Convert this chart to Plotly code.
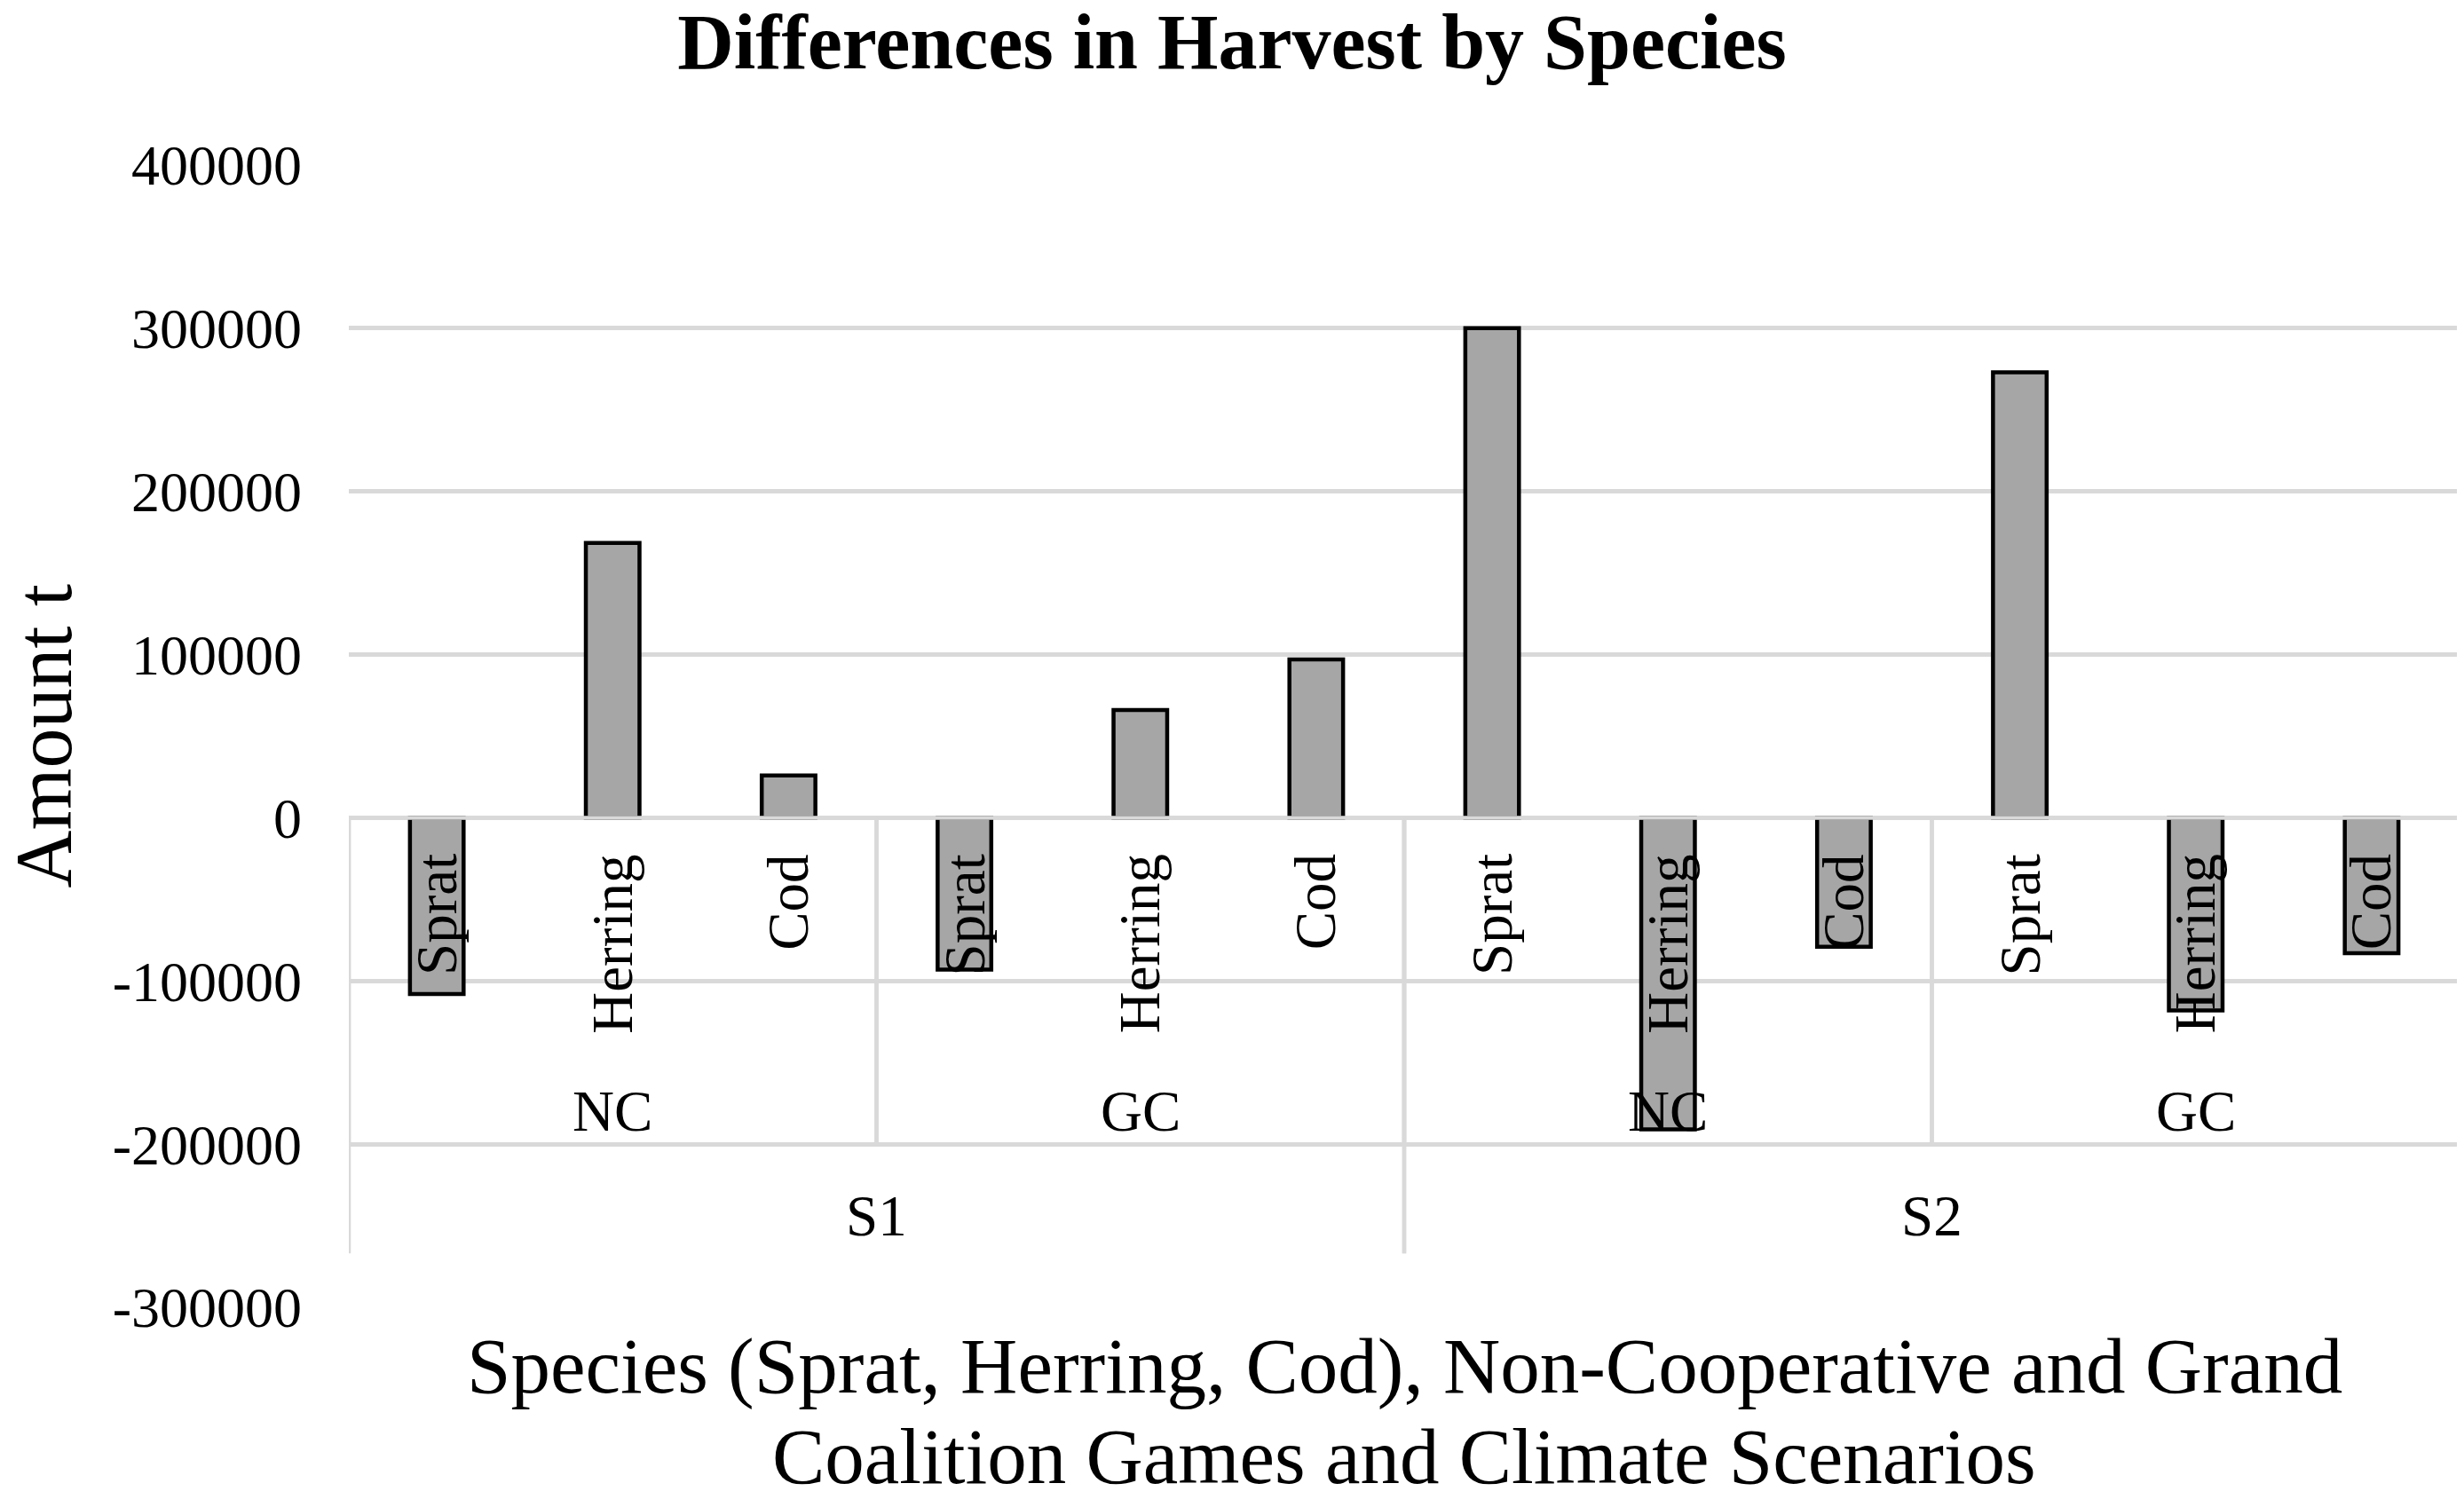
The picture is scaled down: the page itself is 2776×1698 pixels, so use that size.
import plotly.graph_objects as go

# ---- data ----
scenarios = ["S1", "S1", "S1", "S1", "S1", "S1", "S2", "S2", "S2", "S2", "S2", "S2"]
games = ["NC", "NC", "NC", "GC", "GC", "GC", "NC", "NC", "NC", "GC", "GC", "GC"]
species = ["Sprat", "Herring", "Cod", "Sprat", "Herring", "Cod",
           "Sprat", "Herring", "Cod", "Sprat", "Herring", "Cod"]
harvest_diff = [-108000, 168500, 26000, -93000, 66000, 97000,
                300000, -191000, -79000, 273000, -118000, -83000]
y_ticks = [400000, 300000, 200000, 100000, 0, -100000, -200000, -300000]
y_tick_labels = ["400000", "300000", "200000", "100000", "0", "-100000", "-200000", "-300000"]

FONT = "Times New Roman, Liberation Serif, serif"
GRID = "#D9D9D9"
W, H = 2776, 1698
OFF = 8  # page body margin offset
ML, MR, MT, MB = 393 - OFF, 5 + OFF, 186 - OFF, 225 + OFF
PH = H - MT - MB
PW = W - ML - MR

idx = list(range(len(species)))

fig = go.Figure()
fig.add_trace(go.Bar(
    x=idx, y=harvest_diff,
    marker=dict(color="#A6A6A6", line=dict(color="black", width=4.5)),
    showlegend=False, hoverinfo="skip",
))

annotations = []
# species labels (rotated), just below the zero line
for i, s in zip(idx, species):
    annotations.append(dict(
        x=i, y=0, xref="x", yref="y", text=s, showarrow=False,
        textangle=-90, xanchor="center", yanchor="top", yshift=-41,
        font=dict(family=FONT, size=65, color="black"),
        borderpad=0, borderwidth=0,
    ))

# game labels (NC / GC) and scenario labels (S1 / S2) centred on their spans
def spans(labels_lists):
    out = []
    start = 0
    for i in range(1, len(idx) + 1):
        if i == len(idx) or any(l[i] != l[start] for l in labels_lists):
            out.append((start, i - 1))
            start = i
    return out

game_spans = spans([scenarios, games])
scen_spans = spans([scenarios])

GAME_Y = -180000
SCEN_Y = -244000
for a, b in game_spans:
    annotations.append(dict(
        x=(a + b) / 2, y=GAME_Y, xref="x", yref="y", text=games[a], showarrow=False,
        xanchor="center", yanchor="middle",
        font=dict(family=FONT, size=65, color="black"), borderpad=0, borderwidth=0,
    ))
for a, b in scen_spans:
    annotations.append(dict(
        x=(a + b) / 2, y=SCEN_Y, xref="x", yref="y", text=scenarios[a], showarrow=False,
        xanchor="center", yanchor="middle",
        font=dict(family=FONT, size=65, color="black"), borderpad=0, borderwidth=0,
    ))

# axis titles
annotations.append(dict(
    x=(49 - OFF - ML) / PW, y=0.5, xref="paper", yref="paper",
    text="Amount t", textangle=-90, showarrow=False,
    xanchor="center", yanchor="middle",
    font=dict(family=FONT, size=90, color="black"), borderpad=0, borderwidth=0,
))
x_title_lines = ["Species (Sprat, Herring, Cod), Non-Cooperative and Grand",
                 "Coalition Games and Climate Scenarios"]
for line, ypx in zip(x_title_lines, [1539 - OFF, 1641 - OFF]):
    annotations.append(dict(
        x=0.5, y=(H - MB - ypx) / PH, xref="paper", yref="paper",
        text=line, showarrow=False, xanchor="center", yanchor="middle",
        font=dict(family=FONT, size=89, color="black"), borderpad=0, borderwidth=0,
    ))

# separator lines of the category axis
shapes = []
SEP_BOTTOM = -267000
for a, b in scen_spans:
    for xv in (a - 0.5, b + 0.5):
        shapes.append(dict(type="line", xref="x", yref="y", x0=xv, x1=xv, y0=0, y1=SEP_BOTTOM,
                           line=dict(color=GRID, width=4.5), layer="above"))
for a, b in game_spans:
    for xv in (a - 0.5, b + 0.5):
        shapes.append(dict(type="line", xref="x", yref="y", x0=xv, x1=xv, y0=0, y1=-200000,
                           line=dict(color=GRID, width=4.5), layer="above"))
# zero line drawn over the bars
shapes.append(dict(type="line", xref="paper", yref="y", x0=0, x1=1, y0=0, y1=0,
                   line=dict(color=GRID, width=4.5), layer="above"))

fig.update_layout(
    width=W, height=H,
    margin=dict(l=ML, r=MR, t=MT, b=MB, autoexpand=False),
    paper_bgcolor="white", plot_bgcolor="white",
    title=dict(text="<b>Differences in Harvest by Species</b>", x=(1388 - OFF) / W, xref="container",
               xanchor="center", y=1 - (46 - OFF) / H, yref="container", yanchor="middle",
               font=dict(family=FONT, size=88, color="black")),
    bargap=0.695,
    annotations=annotations,
    shapes=shapes,
    font=dict(family=FONT, color="black"),
)
fig.update_xaxes(range=[-0.5, len(idx) - 0.5], showgrid=False, zeroline=False,
                 showticklabels=False, showline=False, ticks="")
fig.update_yaxes(range=[-300000, 400000], tickvals=y_ticks, ticktext=y_tick_labels,
                 showgrid=True, gridcolor=GRID, gridwidth=4.5, zeroline=False,
                 showline=False, ticks="", ticklabelstandoff=52,
                 tickfont=dict(family=FONT, size=64, color="black"))

fig.write_html("out.html")
